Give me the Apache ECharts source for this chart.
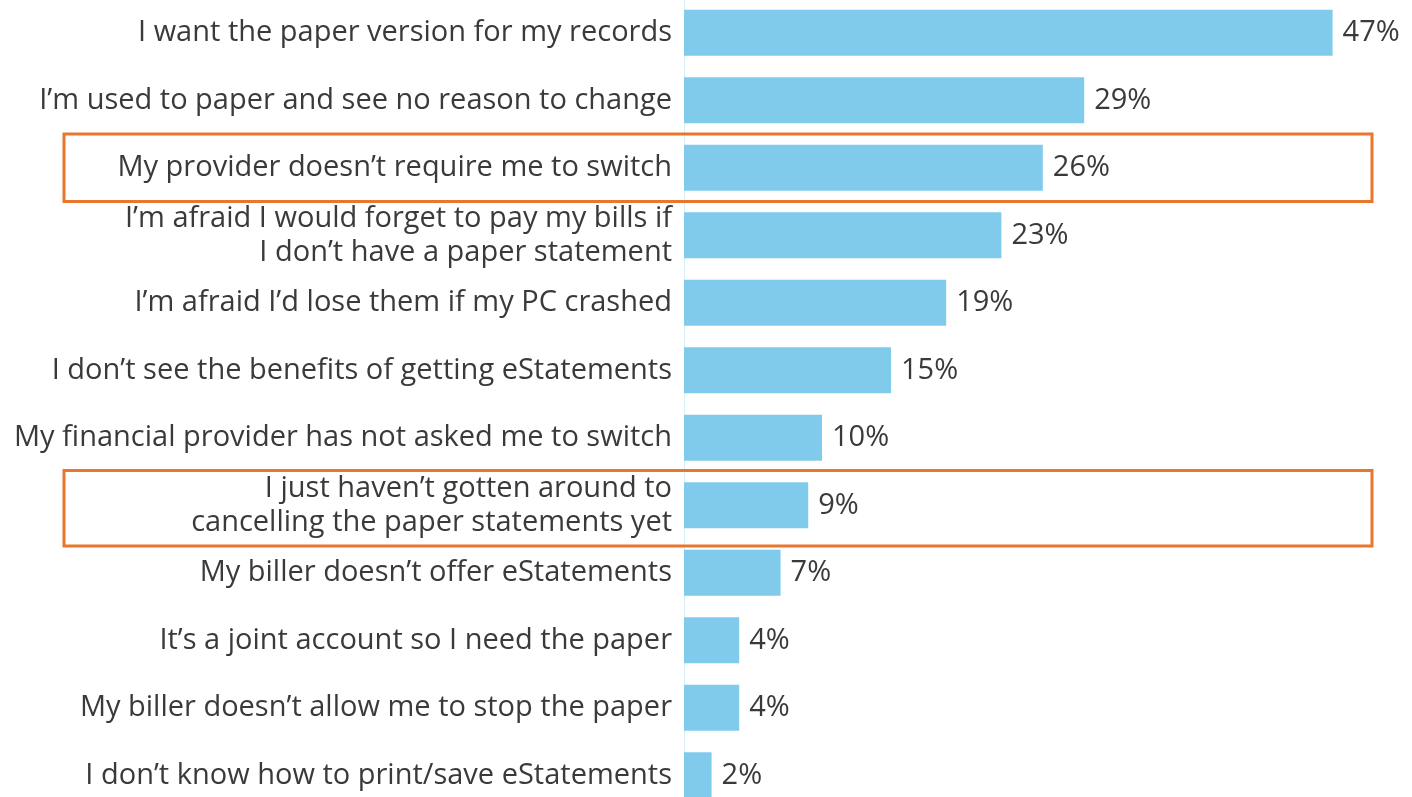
<!DOCTYPE html>
<html>
<head>
<meta charset="utf-8">
<script src="https://cdn.jsdelivr.net/npm/echarts@6/dist/echarts.min.js"></script>
<style>
  html, body { margin: 0; padding: 0; background: #fff; }
  #chart { width: 1412px; height: 797px; }
</style>
</head>
<body>
<div id="chart"></div>
<script>
// Reasons for keeping paper statements
const categories = [
  "I want the paper version for my records",
  "I\u2019m used to paper and see no reason to change",
  "My provider doesn\u2019t require me to switch",
  "I\u2019m afraid I would forget to pay my bills if\nI don\u2019t have a paper statement",
  "I\u2019m afraid I\u2019d lose them if my PC crashed",
  "I don\u2019t see the benefits of getting eStatements",
  "My financial provider has not asked me to switch",
  "I just haven\u2019t gotten around to\ncancelling the paper statements yet",
  "My biller doesn\u2019t offer eStatements",
  "It\u2019s a joint account so I need the paper",
  "My biller doesn\u2019t allow me to stop the paper",
  "I don\u2019t know how to print/save eStatements"
];
const percents = [47, 29, 26, 23, 19, 15, 10, 9, 7, 4, 4, 2];
// rows outlined in orange
const highlighted = [2, 7];

const chart = echarts.init(document.getElementById("chart"));

const option = {
  animation: false,
  grid: { left: 684, right: 38, top: -1, height: 810, outerBoundsMode: "none" },
  xAxis: {
    type: "value",
    min: 0,
    max: 50,
    show: false
  },
  yAxis: {
    type: "category",
    inverse: true,
    data: categories,
    axisLine: { show: true, lineStyle: { color: "#d8eef9", width: 1 } },
    axisTick: { show: false },
    axisLabel: {
      color: "#3a3a3a",
      fontFamily: "Open Sans",
      fontSize: 29,
      lineHeight: 34,
      margin: 12,
      padding: [8, 0, 0, 0],
      align: "right"
    }
  },
  series: [
    {
      type: "bar",
      data: percents,
      barWidth: 46,
      itemStyle: { color: "#80cbec" },
      label: {
        show: true,
        position: "right",
        distance: 10,
        formatter: "{c}%",
        color: "#3a3a3a",
        fontFamily: "Open Sans",
        fontSize: 29,
        padding: [8, 0, 0, 0]
      }
    }
  ]
};

chart.setOption(option);

// orange outlines around highlighted rows, placed from the category scale
const band = chart.convertToPixel({ yAxisIndex: 0 }, categories[1]) -
             chart.convertToPixel({ yAxisIndex: 0 }, categories[0]);
chart.setOption({
  graphic: highlighted.map(function (i) {
    const cy = chart.convertToPixel({ yAxisIndex: 0 }, categories[i]);
    const h = categories[i].indexOf("\n") >= 0 ? band + 8 : band;
    return {
      type: "rect",
      shape: { x: 64, y: cy - h / 2 + (h > band ? 3 : 0), width: 1308, height: h },
      style: { fill: "none", stroke: "#e8762d", lineWidth: 3 },
      z: 10
    };
  })
});
</script>
</body>
</html>
